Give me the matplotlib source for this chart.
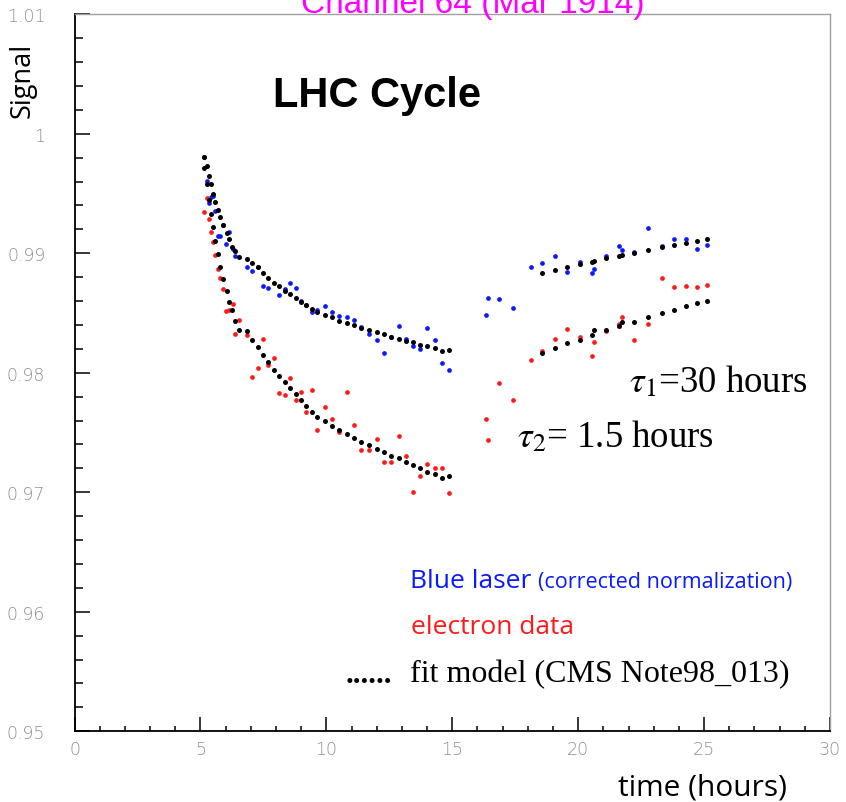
import matplotlib
matplotlib.use('Agg')
import matplotlib.pyplot as plt
from matplotlib.ticker import FixedLocator, MultipleLocator

# ---------------- data ----------------
# time grid of the first fill (hours)
t_fill1 = [5.14, 5.25, 5.33, 5.42, 5.49, 5.58, 5.68, 5.77, 5.91, 6.04, 6.15, 6.27,
           6.36, 6.52, 6.85, 7.06, 7.28, 7.49, 7.69, 7.91, 8.11, 8.35, 8.57, 8.79,
           9.00, 9.21, 9.42, 9.62, 9.94, 10.23, 10.52, 10.81, 11.10, 11.39, 11.70,
           12.00, 12.29, 12.58, 12.88, 13.17, 13.44, 13.72, 14.01, 14.31, 14.60, 14.89]
fit_blue_fill1 = [0.99808, 0.99728, 0.99649, 0.99577, 0.99496, 0.99429, 0.99365, 0.99306,
                  0.99234, 0.99167, 0.99117, 0.99055, 0.99017, 0.98972, 0.98950, 0.98919,
                  0.98883, 0.98835, 0.98796, 0.98754, 0.98724, 0.98687, 0.98657, 0.98626,
                  0.98595, 0.98565, 0.98536, 0.98506, 0.98486, 0.98465, 0.98434, 0.98414,
                  0.98398, 0.98377, 0.98356, 0.98339, 0.98325, 0.98302, 0.98285, 0.98269,
                  0.98255, 0.98235, 0.98227, 0.98205, 0.98185, 0.98193]
fit_red_fill1 = [0.99711, 0.99577, 0.99449, 0.99326, 0.99218, 0.99106, 0.98994, 0.98888,
                 0.98788, 0.98687, 0.98595, 0.98526, 0.98436, 0.98357, 0.98347, 0.98275,
                 0.98214, 0.98145, 0.98088, 0.98026, 0.97973, 0.97926, 0.97873, 0.97825,
                 0.97775, 0.97725, 0.97675, 0.97633, 0.97594, 0.97555, 0.97524, 0.97485,
                 0.97454, 0.97423, 0.97393, 0.97365, 0.97335, 0.97304, 0.97285, 0.97254,
                 0.97226, 0.97203, 0.97172, 0.97153, 0.97122, 0.97134]

# blue laser points, first fill
t_blue1 = [5.14, 5.25, 5.34, 5.42, 5.50, 5.58, 5.91, 5.69, 5.78, 6.15, 6.03, 6.28, 6.36,
           6.85, 7.06, 7.28, 7.49, 7.69, 8.11, 8.35, 8.57, 8.79, 9.00, 9.21, 9.42, 9.62,
           9.94, 10.23, 10.52, 10.81, 11.10, 11.39, 11.70, 12.00, 12.29, 12.58, 12.88,
           13.17, 13.44, 13.72, 14.01, 14.31, 14.60, 14.89]
s_blue1 = [0.99808, 0.99608, 0.99418, 0.99469, 0.99477, 0.99357, 0.99237, 0.99147, 0.99147,
           0.99178, 0.99078, 0.99036, 0.98975, 0.98888, 0.98854, 0.98888, 0.98726, 0.98712,
           0.98649, 0.98704, 0.98754, 0.98712, 0.98603, 0.98567, 0.98506, 0.98528, 0.98557,
           0.98506, 0.98475, 0.98465, 0.98444, 0.98386, 0.98327, 0.98275, 0.98166, 0.98297,
           0.98389, 0.98280, 0.98224, 0.98202, 0.98377, 0.98275, 0.98085, 0.98026]

# electron data points, first fill
t_red1 = [5.14, 5.25, 5.34, 5.42, 5.49, 5.58, 5.69, 5.78, 5.91, 6.03, 6.15, 6.28, 6.36,
          6.52, 6.85, 7.06, 7.28, 7.49, 7.69, 7.91, 8.11, 8.35, 8.57, 8.79, 9.00, 9.21,
          9.42, 9.62, 9.94, 10.23, 10.52, 10.81, 11.10, 11.39, 11.70, 12.00, 12.29,
          12.58, 12.88, 13.17, 13.44, 13.72, 14.01, 14.31, 14.60, 14.89]
s_red1 = [0.99348, 0.99460, 0.99285, 0.99178, 0.99095, 0.98983, 0.98866, 0.98796, 0.98704,
          0.98515, 0.98524, 0.98576, 0.98327, 0.98444, 0.98315, 0.97965, 0.98044, 0.98285,
          0.98063, 0.98126, 0.97829, 0.97817, 0.97955, 0.97775, 0.97837, 0.97675, 0.97856,
          0.97524, 0.97714, 0.97614, 0.97505, 0.97837, 0.97566, 0.97354, 0.97354, 0.97446,
          0.97254, 0.97254, 0.97474, 0.97304, 0.97005, 0.97134, 0.97234, 0.97203, 0.97203,
          0.96997]

# second fill
t_fill2_data = [16.33, 16.41, 16.86, 17.40, 18.14, 18.58, 19.08, 19.57, 20.08, 20.55, 20.64,
                21.12, 21.62, 21.73, 22.22, 22.79, 23.32, 23.81, 24.27, 24.73, 25.11]
s_blue2 = [0.98486, 0.98626, 0.98618, 0.98545, 0.98885, 0.98919, 0.98977, 0.98846, 0.98930,
           0.98835, 0.98869, 0.98977, 0.99059, 0.99028, 0.99008, 0.99209, 0.99059, 0.99120,
           0.99120, 0.99036, 0.99067]
s_red2 = [0.97614, 0.97438, 0.97915, 0.97775, 0.98107, 0.98185, 0.98285, 0.98367, 0.98297,
          0.98143, 0.98255, 0.98347, 0.98408, 0.98467, 0.98277, 0.98408, 0.98796, 0.98716,
          0.98726, 0.98716, 0.98735]

t_fill2_fit = [18.58, 19.08, 19.57, 20.08, 20.55, 20.64, 21.12, 21.62, 21.73, 22.22, 22.79,
               23.32, 23.81, 24.27, 24.73, 25.11]
fit_blue_fill2 = [0.98835, 0.98858, 0.98885, 0.98908, 0.98927, 0.98938, 0.98961, 0.98977,
                  0.98983, 0.99000, 0.99028, 0.99050, 0.99067, 0.99089, 0.99106, 0.99117]
fit_red_fill2 = [0.98166, 0.98205, 0.98247, 0.98277, 0.98316, 0.98356, 0.98356, 0.98389,
                 0.98423, 0.98425, 0.98467, 0.98498, 0.98528, 0.98557, 0.98584, 0.98598]

x_ticks = [0, 5, 10, 15, 20, 25, 30]
y_ticks = [0.95, 0.96, 0.97, 0.98, 0.99, 1.00, 1.01]
y_tick_labels = ['0.95', '0.96', '0.97', '0.98', '0.99', '1', '1.01']

# ---------------- figure ----------------
W, H = 846, 803
fig = plt.figure(figsize=(W / 100, H / 100), dpi=100)
fig.patch.set_facecolor('white')
plt.rcParams['mathtext.fontset'] = 'stix'


def fx(px):
    return px / W


def fy(py):
    return 1 - py / H


ax = fig.add_axes([fx(74.5), fy(732.3), (830 - 74.5) / W, (732.3 - 15.3) / H])
ax.set_xlim(0, 30)
ax.set_ylim(0.95, 1.01)

BLUE = '#0a1aff'
RED = '#ff1a1a'

kw = dict(linestyle='none', marker='o', markeredgewidth=0, clip_on=False)
ax.plot(t_blue1, s_blue1, color=BLUE, markersize=3.4, **kw)
ax.plot(t_fill2_data, s_blue2, color=BLUE, markersize=3.4, **kw)
ax.plot(t_red1, s_red1, color=RED, markersize=3.4, **kw)
ax.plot(t_fill2_data, s_red2, color=RED, markersize=3.4, **kw)
ax.plot(t_fill1, fit_blue_fill1, color='black', markersize=3.6, **kw)
ax.plot(t_fill1, fit_red_fill1, color='black', markersize=3.6, **kw)
ax.plot(t_fill2_fit, fit_blue_fill2, color='black', markersize=3.6, **kw)
ax.plot(t_fill2_fit, fit_red_fill2, color='black', markersize=3.6, **kw)

# spines
for side in ('top', 'right'):
    ax.spines[side].set_color('#a0a0a0')
    ax.spines[side].set_linewidth(1.0)
for side in ('left', 'bottom'):
    ax.spines[side].set_color('black')
    ax.spines[side].set_linewidth(1.3)

ax.xaxis.set_major_locator(FixedLocator(x_ticks))
ax.xaxis.set_minor_locator(MultipleLocator(1))
ax.yaxis.set_major_locator(FixedLocator(y_ticks))
ax.yaxis.set_minor_locator(MultipleLocator(0.002))
ax.set_xticklabels([str(v) for v in x_ticks])
ax.set_yticklabels(y_tick_labels)

ax.tick_params(axis='both', which='both', direction='in', top=False, right=False,
               color='black', width=1.1)
ax.tick_params(axis='y', which='major', length=11, pad=21)
ax.tick_params(axis='y', which='minor', length=5.4)
ax.tick_params(axis='x', which='major', length=10, pad=6)
ax.tick_params(axis='x', which='minor', length=3.8)
for lab in ax.get_xticklabels() + ax.get_yticklabels():
    lab.set_fontfamily(['DejaVu Sans'])
    lab.set_fontweight('light')
    lab.set_fontsize(12.5)
    lab.set_color('#8f8f8f')

# axis titles
fig.text(fx(23), fy(43), 'Signal', rotation=90, ha='center', va='top',
         fontsize=19.5, family=['Open Sans', 'DejaVu Sans'], color='black')
fig.text(fx(787), fy(788), 'time (hours)', ha='right', va='center',
         fontsize=21.5, family=['Open Sans', 'DejaVu Sans'], color='black')

# magenta title, clipped by the top of the image (only its lower part shows)
fig.text(fx(473), fy(13), 'Channel 64 (Mar 1914)', ha='center', va='baseline',
         fontsize=24, family=['Liberation Sans', 'DejaVu Sans'], color='#ff00ff')

# annotations
fig.text(fx(273), fy(107), 'LHC Cycle', ha='left', va='baseline', fontsize=30,
         fontweight='bold', family=['Liberation Sans', 'DejaVu Sans'], color='black')
fig.text(fx(629), fy(392), r'$\tau_1$=30 hours', ha='left', va='baseline', fontsize=26.5,
         family=['Liberation Serif', 'DejaVu Serif'], color='black')
fig.text(fx(517), fy(447), r'$\tau_2$= 1.5 hours', ha='left', va='baseline', fontsize=26.5,
         family=['Liberation Serif', 'DejaVu Serif'], color='black')

# legend-like texts
fig.text(fx(410), fy(588), 'Blue laser', ha='left', va='baseline', fontsize=19,
         family=['Open Sans', 'DejaVu Sans'], color=BLUE)
fig.text(fx(538), fy(588), '(corrected normalization)', ha='left', va='baseline',
         fontsize=15.5, family=['Open Sans', 'DejaVu Sans'], color=BLUE)
fig.text(fx(411), fy(634), 'electron data', ha='left', va='baseline', fontsize=19,
         family=['Open Sans', 'DejaVu Sans'], color=RED)
fig.text(fx(346), fy(683), '......', ha='left', va='baseline', fontsize=22,
         fontweight='bold', family=['Liberation Serif', 'DejaVu Serif'], color='black')
fig.text(fx(410), fy(682), 'fit model (CMS Note98_013)', ha='left', va='baseline',
         fontsize=23, family=['Liberation Serif', 'DejaVu Serif'], color='black')

fig.savefig('out.png', dpi=100, facecolor='white')
